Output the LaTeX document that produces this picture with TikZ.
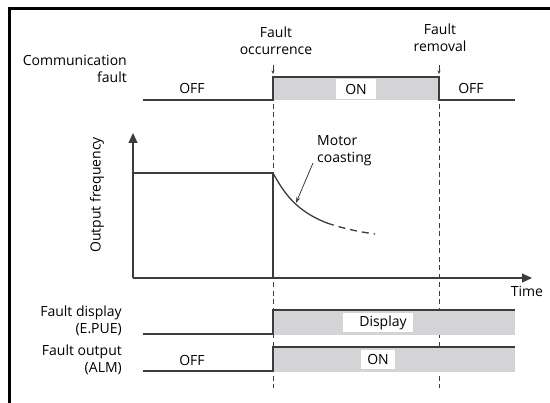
\documentclass[tikz,border=0pt]{standalone}
\usepackage{fontspec}
\setmainfont{Open Sans}
\usetikzlibrary{arrows.meta}
\definecolor{sigline}{RGB}{60,60,60}
\definecolor{sigfill}{RGB}{212,212,214}
\begin{document}
\begin{tikzpicture}[x=1pt,y=-1pt,
  lbl/.style={font=\fontsize{14}{17}\selectfont, inner sep=0pt},
  rlbl/.style={lbl, align=right, anchor=east},
  clbl/.style={lbl, align=center},
  sig/.style={draw=sigline, line width=1.3pt},
  hifill/.style={fill=sigfill},
  whitebox/.style={lbl, fill=white, inner sep=0pt},
  vdash/.style={draw=sigline, line width=1pt, dash pattern=on 5pt off 3.5pt},
  marker/.style={draw=sigline, line width=0.8pt, -{Stealth[length=3.5pt,width=3pt]}},
  axis/.style={draw=sigline, line width=1.2pt, -{Triangle[length=10pt,width=9pt]}}
]
\useasboundingbox (0,0) rectangle (550,403);
% frame
\draw[line width=3pt] (9,403) -- (9,9) -- (550,9);

% ---- Communication fault ----
\node[rlbl] (commlbl) at (127,69) {Communication\\fault};
\fill[hifill] (273,77) rectangle (439,100);
\draw[sig] (143,100) -- (273,100) -- (273,77) -- (439,77) -- (439,100) -- (515,100);
\node[lbl] (off1) at (192,88) {OFF};
\node[whitebox, minimum width=40pt, minimum height=20pt] (on1) at (356,89) {ON};
\node[lbl] (off2) at (471,88) {OFF};

% event labels
\node[clbl] (occ) at (276,41) {Fault\\occurrence};
\node[clbl] (rem) at (440,38) {Fault\\removal};
\coordinate (occA) at (273,65);
\coordinate (occB) at (273,74);
\coordinate (remA) at (439,65);
\coordinate (remB) at (439,74);
\draw[marker] (occA) -- (occB);
\draw[marker] (remA) -- (remB);

% dashed verticals
\coordinate (d1t) at (273,104);
\coordinate (d1b) at (273,388);
\coordinate (d2t) at (439,104);
\coordinate (d2b) at (439,388);
\draw[vdash] (d1t) -- (d1b);
\draw[vdash] (d2t) -- (d2b);

% ---- Output frequency graph ----
\coordinate (orig) at (133,278);
\coordinate (ytip) at (133,133);
\coordinate (xtip) at (532,278);
\draw[axis] (orig) -- (ytip);
\draw[axis] (orig) -- (xtip);
\node[lbl, rotate=90] (oflbl) at (97,195) {Output frequency};
\node[lbl, anchor=north] (time) at (527,286) {Time};

\draw[sig] (133,173) -- (273,173) -- (273,278);
\draw[sig] (273,173) .. controls (284,193) and (296,211) .. (327,223);
\draw[sig, dash pattern=on 7pt off 5pt] (327,223) .. controls (345,229) and (360,232) .. (375,234);

\node[lbl, align=left, anchor=west] (mc) at (317,151) {Motor\\coasting};
\coordinate (mcA) at (313,163);
\coordinate (mcB) at (296,203);
\draw[draw=sigline, line width=0.8pt, -{Stealth[length=6pt,width=4pt]}] (mcA) -- (mcB);

% ---- Fault display ----
\node[rlbl] (fdlbl) at (122,321) {Fault display\\(E.PUE)};
\fill[hifill] (273,310) rectangle (515,335);
\draw[sig] (143,334) -- (273,334) -- (273,310) -- (515,310);
\node[whitebox, minimum width=70pt, minimum height=19pt] (disp) at (378,322.5) {\hspace*{10pt}Display};

% ---- Fault output ----
\node[rlbl] (folbl) at (122,360) {Fault output\\(ALM)};
\fill[hifill] (273,347) rectangle (515,372);
\draw[sig] (143,371) -- (273,371) -- (273,347) -- (515,347);
\node[lbl] (off3) at (192,360) {OFF};
\node[whitebox, minimum width=34pt, minimum height=19pt] (on2) at (378,359.5) {ON};
\end{tikzpicture}
\end{document}
